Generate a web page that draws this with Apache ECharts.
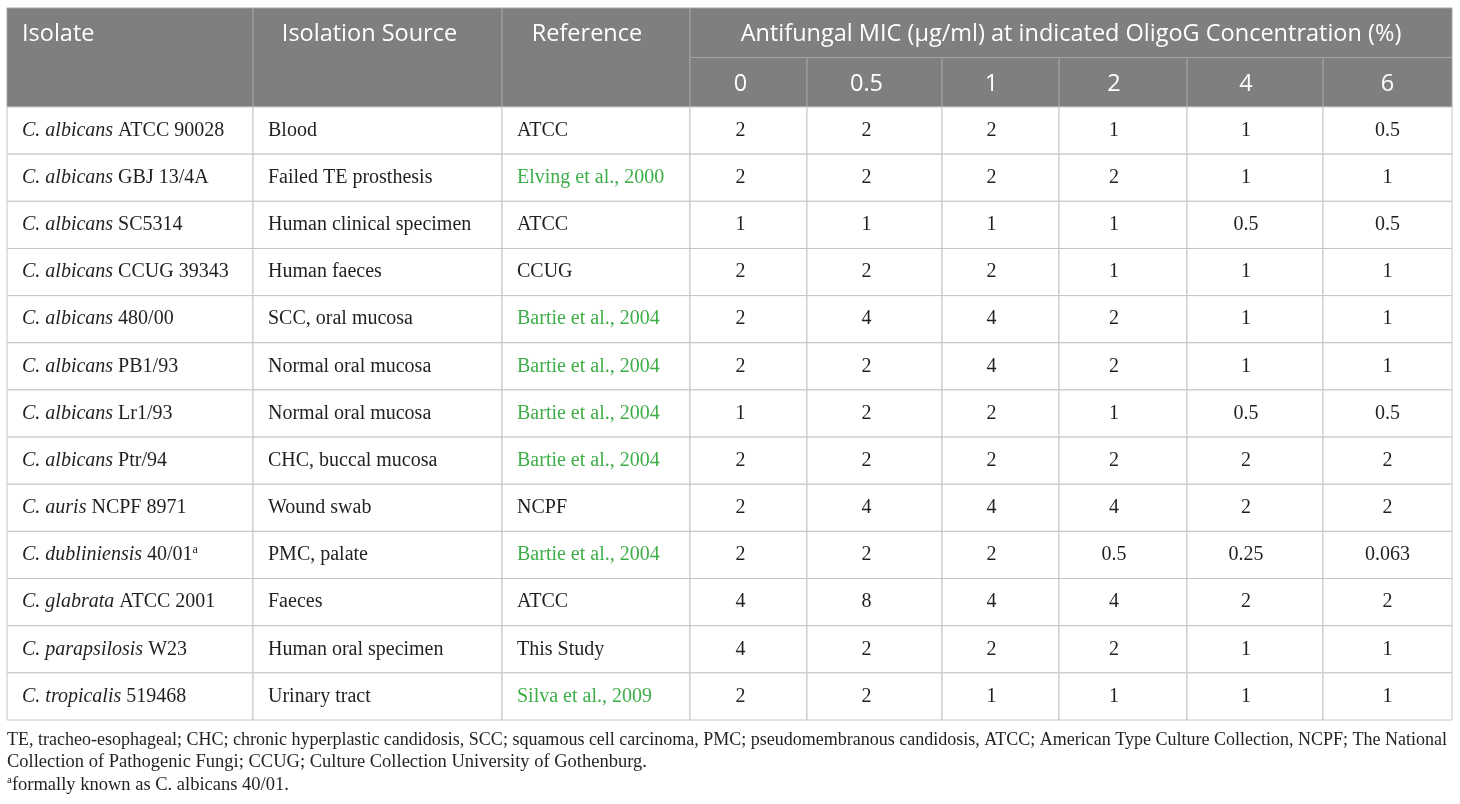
<!DOCTYPE html>
<html>
<head>
<meta charset="utf-8">
<script src="https://cdn.jsdelivr.net/npm/echarts@6/dist/echarts.min.js"></script>
<style>
html, body { margin: 0; padding: 0; background: #fff; }
#main { width: 1460px; height: 804px; }
</style>
</head>
<body>
<div id="main"></div>
<script>
/*#################    表格数据  #####################*/
var headerLabels = ['Isolate', 'Isolation Source', 'Reference', 'Antifungal MIC (\u00b5g/ml) at indicated OligoG Concentration (%)'];
var concentrations = ['0', '0.5', '1', '2', '4', '6'];

var genus = ['C. albicans', 'C. albicans', 'C. albicans', 'C. albicans', 'C. albicans', 'C. albicans', 'C. albicans',
    'C. albicans', 'C. auris', 'C. dubliniensis', 'C. glabrata', 'C. parapsilosis', 'C. tropicalis'];
var strain = ['ATCC 90028', 'GBJ 13/4A', 'SC5314', 'CCUG 39343', '480/00', 'PB1/93', 'Lr1/93',
    'Ptr/94', 'NCPF 8971', '40/01', 'ATCC 2001', 'W23', '519468'];
var strainNote = ['', '', '', '', '', '', '', '', '', 'a', '', '', ''];
var sources = ['Blood', 'Failed TE prosthesis', 'Human clinical specimen', 'Human faeces', 'SCC, oral mucosa',
    'Normal oral mucosa', 'Normal oral mucosa', 'CHC, buccal mucosa', 'Wound swab', 'PMC, palate',
    'Faeces', 'Human oral specimen', 'Urinary tract'];
var references = ['ATCC', 'Elving et al., 2000', 'ATCC', 'CCUG', 'Bartie et al., 2004', 'Bartie et al., 2004',
    'Bartie et al., 2004', 'Bartie et al., 2004', 'NCPF', 'Bartie et al., 2004', 'ATCC', 'This Study', 'Silva et al., 2009'];
var refLinked = [0, 1, 0, 0, 1, 1, 1, 1, 0, 1, 0, 0, 1];

var mic0  = ['2', '2', '1', '2', '2', '2', '1', '2', '2', '2', '4', '4', '2'];
var mic05 = ['2', '2', '1', '2', '4', '2', '2', '2', '4', '2', '8', '2', '2'];
var mic1  = ['2', '2', '1', '2', '4', '4', '2', '2', '4', '2', '4', '2', '1'];
var mic2  = ['1', '2', '1', '1', '2', '2', '1', '2', '4', '0.5', '4', '2', '1'];
var mic4  = ['1', '1', '0.5', '1', '1', '1', '0.5', '2', '2', '0.25', '2', '1', '1'];
var mic6  = ['0.5', '1', '0.5', '1', '1', '1', '0.5', '2', '2', '0.063', '2', '1', '1'];
var micCols = [mic0, mic05, mic1, mic2, mic4, mic6];

var footnotes = [
    'TE, tracheo-esophageal; CHC; chronic hyperplastic candidosis, SCC; squamous cell carcinoma, PMC; pseudomembranous candidosis, ATCC; American Type Culture Collection, NCPF; The National',
    'Collection of Pathogenic Fungi; CCUG; Culture Collection University of Gothenburg.',
    'formally known as C. albicans 40/01.'
];

/*#################    版式  #####################*/
// 列边界 (表格内部宽度单位)
var colEdges = [0, 246, 495, 683, 800, 935, 1052, 1180, 1316, 1445];
// 居中文字的水平偏移
var textShift = [0, -8, -9, -8, -8, -9, -9, -9, 0];
var serif = '"Liberation Serif", "DejaVu Serif", serif';
var sans = '"Open Sans", "Noto Sans", sans-serif';
var lineColor = '#c4c4c4';
var inkColor = '#231f20';

function cellText(c, r) {
    if (c === 0) {
        return '{i|' + genus[r] + '} ' + strain[r] + (strainNote[r] ? '{sup|' + strainNote[r] + '}' : '');
    }
    if (c === 1) return sources[r];
    if (c === 2) return refLinked[r] ? '{g|' + references[r] + '}' : references[r];
    return micCols[c - 3][r];
}

var bodyData = [];
for (var r = 0; r < genus.length; r++) {
    for (var c = 0; c < colEdges.length - 1; c++) {
        bodyData.push([c, r]);
    }
}

// 表头单元格: [起始列, 结束列, 起始行, 结束行, 文本序号]
var headerData = [
    [0, 1, 0, 2, 0], [1, 2, 0, 2, 1], [2, 3, 0, 2, 2], [3, 9, 0, 1, 3]
];
for (var k = 0; k < concentrations.length; k++) {
    headerData.push([3 + k, 4 + k, 1, 2, 4 + k]);
}

function headerText(idx) {
    return idx < 4 ? headerLabels[idx] : concentrations[idx - 4];
}

var dom = document.getElementById('main');
var myChart = echarts.init(dom);

var option = {
    backgroundColor: '#fff',
    animation: false,
    grid: [
        { left: 7, right: 8, top: 8, height: 99 },
        { left: 7, right: 8, top: 107, height: 613 }
    ],
    xAxis: [
        { type: 'value', gridIndex: 0, min: 0, max: 1445, show: false },
        { type: 'value', gridIndex: 1, min: 0, max: 1445, show: false }
    ],
    yAxis: [
        { type: 'value', gridIndex: 0, min: 0, max: 2, inverse: true, show: false },
        { type: 'value', gridIndex: 1, min: 0, max: 13, inverse: true, show: false }
    ],
    series: [
        {
            type: 'custom',
            xAxisIndex: 0,
            yAxisIndex: 0,
            data: headerData,
            renderItem: function (params, api) {
                var c0 = api.value(0), c1 = api.value(1), r0 = api.value(2), r1 = api.value(3), idx = api.value(4);
                var p0 = api.coord([colEdges[c0], r0]);
                var p1 = api.coord([colEdges[c1], r1]);
                var left = idx === 0;
                var shift = (c1 - c0 === 1) ? textShift[c0] : 0;
                // 前三列文字位于第一行
                var ty = idx < 3 ? api.coord([0, 0.5])[1] : (p0[1] + p1[1]) / 2;
                return {
                    type: 'group',
                    children: [
                        {
                            type: 'rect',
                            shape: { x: p0[0], y: p0[1], width: p1[0] - p0[0], height: p1[1] - p0[1] },
                            style: { fill: '#7f7f7f', stroke: '#a3a3a3', lineWidth: 1 }
                        },
                        {
                            type: 'text',
                            x: left ? p0[0] + 15 : (p0[0] + p1[0]) / 2 + shift,
                            y: ty + 2,
                            style: {
                                text: headerText(idx),
                                fill: '#fff',
                                font: '23.5px ' + sans,
                                align: left ? 'left' : 'center',
                                verticalAlign: 'middle'
                            }
                        }
                    ]
                };
            }
        },
        {
            type: 'custom',
            xAxisIndex: 1,
            yAxisIndex: 1,
            data: bodyData,
            renderItem: function (params, api) {
                var c = api.value(0), r = api.value(1);
                var p0 = api.coord([colEdges[c], r]);
                var p1 = api.coord([colEdges[c + 1], r + 1]);
                var left = c < 3;
                return {
                    type: 'group',
                    children: [
                        {
                            type: 'rect',
                            shape: { x: p0[0], y: p0[1], width: p1[0] - p0[0], height: p1[1] - p0[1] },
                            style: { fill: '#fff', stroke: lineColor, lineWidth: 1 }
                        },
                        {
                            type: 'text',
                            x: left ? p0[0] + 15 : (p0[0] + p1[0]) / 2 + textShift[c],
                            y: (p0[1] + p1[1]) / 2,
                            style: {
                                text: cellText(c, r),
                                fill: inkColor,
                                font: '20px ' + serif,
                                align: left ? 'left' : 'center',
                                verticalAlign: 'middle',
                                rich: {
                                    i: { fontStyle: 'italic', fontSize: 20, fontFamily: serif, fill: inkColor },
                                    g: { fontSize: 20, fontFamily: serif, fill: '#3fae49' },
                                    sup: { fontSize: 12, fontFamily: serif, fill: inkColor, padding: [0, 0, 10, 0] }
                                }
                            }
                        }
                    ]
                };
            }
        }
    ],
    graphic: [
        {
            type: 'text', left: 7, top: 731,
            style: { text: footnotes[0], font: '18px ' + serif, fill: inkColor }
        },
        {
            type: 'text', left: 7, top: 753,
            style: { text: footnotes[1], font: '18.5px ' + serif, fill: inkColor }
        },
        {
            type: 'text', left: 7, top: 775,
            style: {
                text: '{sup|a}' + footnotes[2],
                font: '18.5px ' + serif,
                fill: inkColor,
                rich: { sup: { fontSize: 11, fontFamily: serif, padding: [0, 0, 9, 0] } }
            }
        }
    ]
};

if (option && typeof option === 'object') {
    myChart.setOption(option, true);
}
</script>
</body>
</html>
